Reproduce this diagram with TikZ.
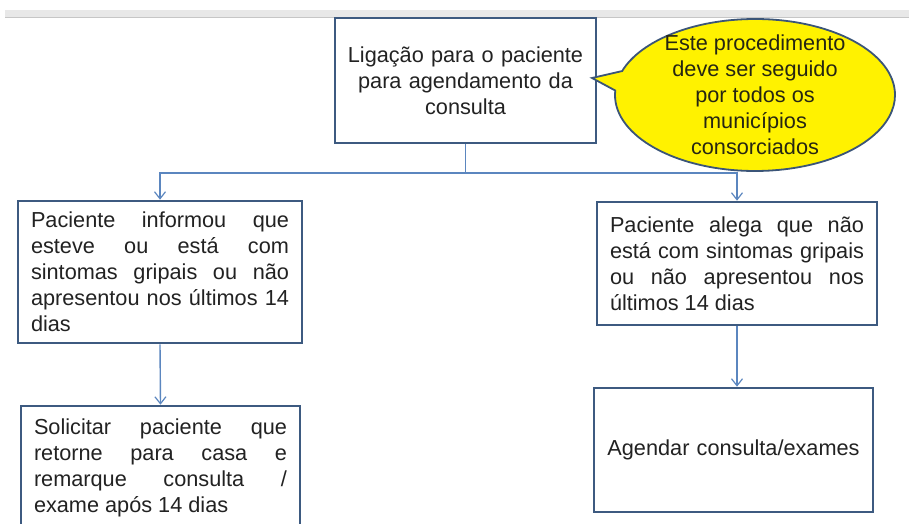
\documentclass[tikz,border=0pt]{standalone}
\usepackage{fontspec}
\setmainfont{Liberation Sans}
\usetikzlibrary{arrows.meta,shapes.callouts,shapes.geometric}
\definecolor{boxline}{HTML}{3D5A80}
\definecolor{conn}{HTML}{5B86BF}
\definecolor{txt}{HTML}{222222}
\definecolor{calltxt}{HTML}{262612}
\definecolor{callline}{HTML}{3B5578}
\tikzset{
  stepbox/.style={draw=boxline, line width=2.6pt, fill=white, text=txt,
    font=\fontsize{21.7}{26}\selectfont, inner xsep=13pt, inner ysep=0pt},
  jbox/.style={stepbox, align=justify},
  cbox/.style={stepbox, align=center},
  conline/.style={draw=conn, line width=1.4pt},
  conarrow/.style={conline, -{Straight Barb[length=7pt,width=11pt,line width=1.2pt]}},
}
\begin{document}
\begin{tikzpicture}[x=1pt,y=-1pt]
\useasboundingbox (0,0) rectangle (909,524);
\clip (0,0) rectangle (909,524);
% top gray bar
\fill[gray!18] (5,10) rectangle (909,17);
\draw[gray!45, line width=0.8pt] (5,17) -- (909,17);

\node[cbox, minimum width=261pt, minimum height=125pt, text width=245pt, inner xsep=8pt] (top) at (465.5,80.5)
  {Ligação para o paciente\\para agendamento da\\consulta};

\node[ellipse callout, draw=callline, line width=1.8pt, fill=yellow, text=calltxt,
  font=\fontsize{21.7}{26}\selectfont, align=center, inner xsep=0pt, inner ysep=-10pt,
  minimum width=280pt, minimum height=152pt,
  callout absolute pointer={(592,78)}] (note) at (755,95)
  {Este procedimento\\deve ser seguido\\por todos os\\municípios\\consorciados};

\node[jbox, minimum width=284pt, minimum height=142pt, text width=258pt] (l1) at (160,272)
  {\hyphenpenalty=10000 Paciente informou que\linebreak esteve ou está com\linebreak sintomas gripais ou não\linebreak apresentou nos últimos 14\linebreak dias};

\node[jbox, minimum width=280pt, minimum height=123pt, text width=254pt] (r1) at (737,263.5)
  {\hyphenpenalty=10000 Paciente alega que não\linebreak está com sintomas gripais\linebreak ou não apresentou nos\linebreak últimos 14 dias};

\node[jbox, minimum width=279pt, minimum height=124pt, text width=253pt] (l2) at (160.5,468)
  {\hyphenpenalty=10000 Solicitar paciente que\linebreak retorne para casa e\linebreak remarque consulta /\linebreak exame após 14 dias};

\node[cbox, minimum width=279pt, minimum height=124pt, text width=253pt] (r2) at (733.5,450)
  {Agendar consulta/exames};

\coordinate (j) at (465.5,173);
\draw[conline] (top.south) -- (j);
\draw[conarrow] (j) -| (l1.north);
\draw[conarrow] (j) -| (r1.north);
\draw[conarrow] (l1.south) -- (l2.north);
\draw[conarrow] (r1.south) -- (r1.south |- r2.north);
\end{tikzpicture}
\end{document}
